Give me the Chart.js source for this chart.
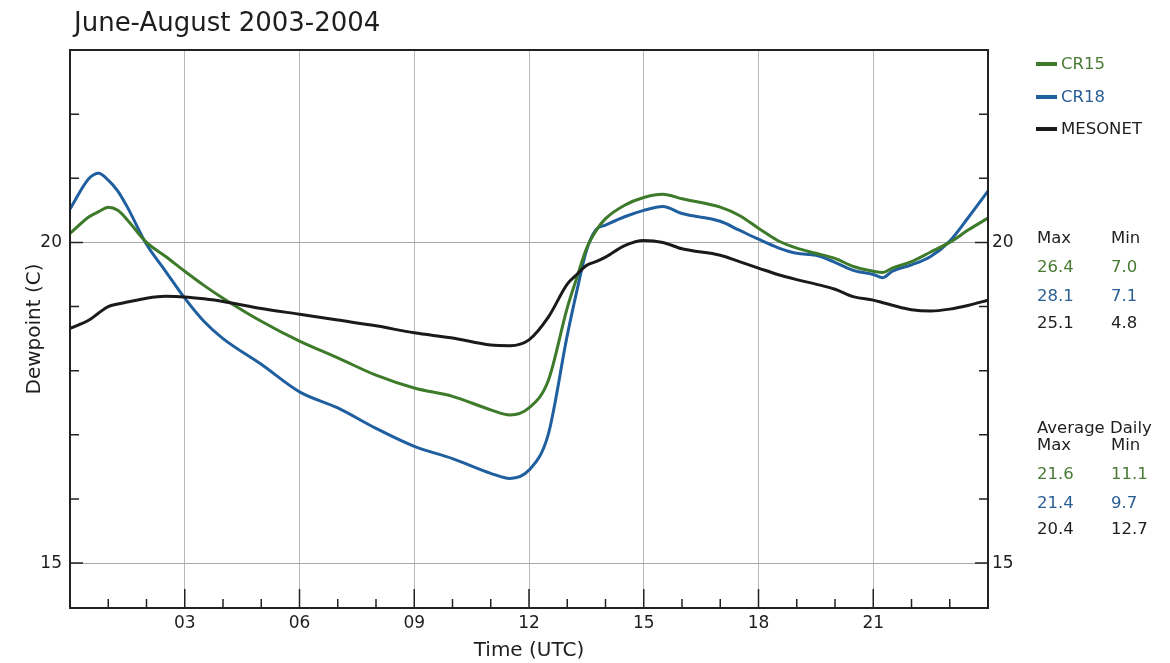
<!DOCTYPE html>
<html>
<head>
<meta charset="utf-8">
<script src="https://cdn.jsdelivr.net/npm/chart.js@4.4.1/dist/chart.umd.min.js"></script>
<style>
  body { margin: 0; background: #fff; font-family: 'DejaVu Sans', sans-serif; color: #1e1e1e; }
  #wrap { position: relative; width: 1170px; height: 663px; }
  #title { position: absolute; left: 74px; top: 7px; font-size: 26px; }
  .txt { position: absolute; font-size: 16.5px; line-height: 18px; white-space: nowrap; }
  .key { position: absolute; width: 21px; height: 4px; }
  .green { color: #4a7a34; }
  .blue { color: #2a5f94; }
</style>
</head>
<body>
<div id="wrap">
  <canvas id="dewChart" width="1170" height="663"></canvas>
  <div id="title">June-August 2003-2004</div>

  <div class="key" style="left:1036px; top:62px; background:#3d7a2a;"></div>
  <div class="txt green" style="left:1061px; top:55px;">CR15</div>
  <div class="key" style="left:1036px; top:95px; background:#1f5f9f;"></div>
  <div class="txt blue" style="left:1061px; top:88px;">CR18</div>
  <div class="key" style="left:1036px; top:127px; background:#1a1a1a;"></div>
  <div class="txt" style="left:1061px; top:120px;">MESONET</div>

  <div class="txt" style="left:1037px; top:229px;">Max</div>
  <div class="txt" style="left:1111px; top:229px;">Min</div>
  <div class="txt green" style="left:1037px; top:258px;">26.4</div>
  <div class="txt green" style="left:1111px; top:258px;">7.0</div>
  <div class="txt blue" style="left:1037px; top:287px;">28.1</div>
  <div class="txt blue" style="left:1111px; top:287px;">7.1</div>
  <div class="txt" style="left:1037px; top:314px;">25.1</div>
  <div class="txt" style="left:1111px; top:314px;">4.8</div>

  <div class="txt" style="left:1037px; top:419px;">Average Daily</div>
  <div class="txt" style="left:1037px; top:436px;">Max</div>
  <div class="txt" style="left:1111px; top:436px;">Min</div>
  <div class="txt green" style="left:1037px; top:465px;">21.6</div>
  <div class="txt green" style="left:1111px; top:465px;">11.1</div>
  <div class="txt blue" style="left:1037px; top:494px;">21.4</div>
  <div class="txt blue" style="left:1111px; top:494px;">9.7</div>
  <div class="txt" style="left:1037px; top:520px;">20.4</div>
  <div class="txt" style="left:1111px; top:520px;">12.7</div>
</div>

<script>
// hours (UTC) where the curves were read
const hours = [0, 0.5, 0.75, 1, 1.25, 1.5, 2, 2.5, 3, 3.5,
    4, 5, 6, 7, 8, 9, 10, 11, 11.5, 12,
    12.5, 13, 13.25, 13.5, 13.75, 14, 14.5, 15, 15.5, 16,
    17, 17.5, 18, 18.5, 19, 19.5, 20, 20.5, 21, 21.25,
    21.5, 22, 22.5, 23, 23.5, 24];

const cr15 = [20.14, 20.4, 20.48, 20.55, 20.5, 20.35, 20.0, 19.78, 19.55, 19.33,
    19.13, 18.77, 18.46, 18.2, 17.93, 17.73, 17.6, 17.39, 17.31, 17.42,
    17.84, 18.98, 19.45, 19.9, 20.18, 20.37, 20.58, 20.7, 20.75, 20.68,
    20.55, 20.42, 20.22, 20.03, 19.91, 19.83, 19.75, 19.62, 19.55, 19.53,
    19.6, 19.7, 19.85, 20.0, 20.2, 20.38];

const cr18 = [20.52, 21.0, 21.08, 20.97, 20.8, 20.55, 19.97, 19.55, 19.13, 18.77,
    18.5, 18.1, 17.67, 17.42, 17.1, 16.82, 16.63, 16.4, 16.32, 16.45,
    17.0, 18.55, 19.24, 19.87, 20.2, 20.27, 20.4, 20.5, 20.56, 20.45,
    20.33, 20.19, 20.05, 19.92, 19.83, 19.8, 19.69, 19.56, 19.5, 19.45,
    19.55, 19.65, 19.78, 20.02, 20.4, 20.8];

const mesonet = [18.66, 18.79, 18.9, 19.0, 19.04, 19.07, 19.13, 19.16, 19.15, 19.12,
    19.08, 18.97, 18.88, 18.79, 18.7, 18.59, 18.51, 18.4, 18.39, 18.48,
    18.83, 19.35, 19.5, 19.64, 19.7, 19.77, 19.95, 20.03, 20.0, 19.9,
    19.8, 19.7, 19.6, 19.5, 19.42, 19.35, 19.27, 19.15, 19.1, 19.06,
    19.02, 18.95, 18.93, 18.96, 19.02, 19.1];

const hourLabels = [3, 6, 9, 12, 15, 18, 21];
const dewLabels = [15, 20];
const dewMinorTicks = [15, 16, 17, 18, 19, 20, 21, 22];

const toPoints = vals => vals.map((v, i) => ({x: hours[i], y: v}));

// frame box and the inward tick marks
const frameTicks = {
    id: 'frameTicks',
    afterDatasetsDraw(chart) {
        const {ctx, chartArea: a, scales: {x, y}} = chart;
        ctx.save();
        ctx.strokeStyle = '#222';
        ctx.lineWidth = 2;
        ctx.strokeRect(a.left, a.top, a.right - a.left, a.bottom - a.top);
        ctx.lineWidth = 1.5;
        ctx.beginPath();
        for (let h = 1; h < 24; h++) {
            const px = x.getPixelForValue(h);
            const len = h % 3 === 0 ? 19 : 9;
            ctx.moveTo(px, a.bottom);
            ctx.lineTo(px, a.bottom - len);
        }
        dewMinorTicks.forEach(v => {
            const py = y.getPixelForValue(v);
            const len = dewLabels.includes(v) ? 13 : 9;
            ctx.moveTo(a.left, py);
            ctx.lineTo(a.left + len, py);
            ctx.moveTo(a.right, py);
            ctx.lineTo(a.right - len, py);
        });
        ctx.stroke();
        ctx.restore();
    }
};

const tickFont = {family: 'DejaVu Sans', size: 17};
const lineSet = (label, data, color) => ({
    label: label,
    data: toPoints(data),
    borderColor: color,
    borderWidth: 3,
    pointRadius: 0,
    cubicInterpolationMode: 'monotone',
    fill: false
});

new Chart(document.getElementById('dewChart'), {
    type: 'line',
    data: {
        datasets: [
            lineSet('MESONET', mesonet, '#1a1a1a'),
            lineSet('CR15', cr15, '#3d7a2a'),
            lineSet('CR18', cr18, '#1f5f9f')
        ]
    },
    options: {
        responsive: false,
        animation: false,
        devicePixelRatio: 1,
        layout: {padding: {top: 50, right: 152, left: 0, bottom: 0}},
        plugins: {legend: {display: false}, tooltip: {enabled: false}},
        scales: {
            x: {
                type: 'linear',
                min: 0,
                max: 24,
                afterBuildTicks: scale => { scale.ticks = hourLabels.map(v => ({value: v})); },
                afterFit: scale => { scale.height = 55; },
                ticks: {
                    color: '#1e1e1e',
                    font: tickFont,
                    padding: 5,
                    maxRotation: 0,
                    callback: v => String(v).padStart(2, '0')
                },
                grid: {color: '#b8b8b8', lineWidth: 1, drawTicks: false},
                border: {display: false},
                title: {
                    display: true,
                    text: 'Time (UTC)',
                    color: '#1e1e1e',
                    font: {family: 'DejaVu Sans', size: 20},
                    padding: {top: 0, bottom: 0}
                }
            },
            y: {
                min: 14.3,
                max: 23,
                afterBuildTicks: scale => { scale.ticks = dewLabels.map(v => ({value: v})); },
                afterFit: scale => { scale.width = 70; },
                ticks: {color: '#1e1e1e', font: tickFont, padding: 8},
                grid: {color: '#a8a8a8', lineWidth: 1, drawTicks: false},
                border: {display: false},
                title: {
                    display: true,
                    text: 'Dewpoint (C)',
                    color: '#1e1e1e',
                    font: {family: 'DejaVu Sans', size: 20},
                    padding: {top: 23, bottom: 0}
                }
            },
            y2: {
                position: 'right',
                min: 14.3,
                max: 23,
                afterBuildTicks: scale => { scale.ticks = dewLabels.map(v => ({value: v})); },
                afterFit: scale => { scale.width = 30; },
                ticks: {color: '#1e1e1e', font: tickFont, padding: 4},
                grid: {display: false, drawTicks: false},
                border: {display: false}
            }
        }
    },
    plugins: [frameTicks]
});
</script>
</body>
</html>
